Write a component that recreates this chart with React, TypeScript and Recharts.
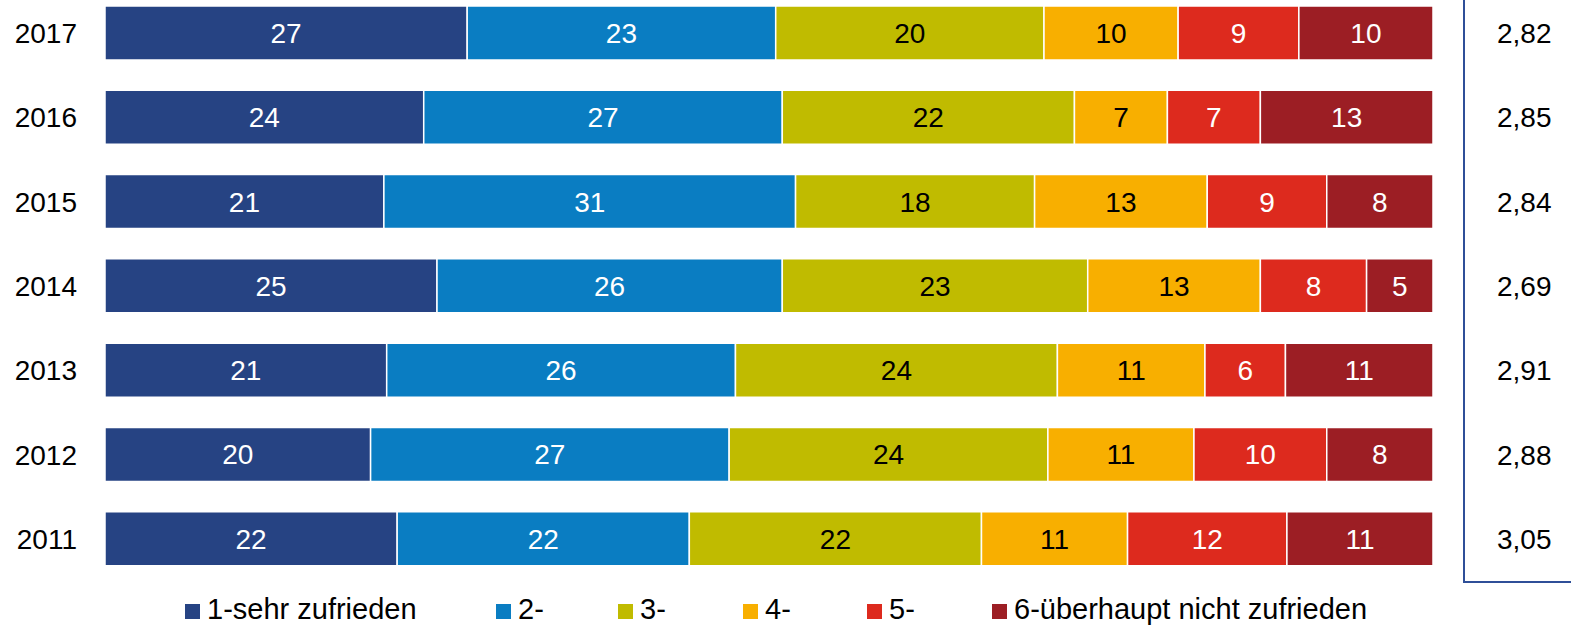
import { Bar, BarChart, LabelList, XAxis, YAxis } from "recharts";

const years = ["2017", "2016", "2015", "2014", "2013", "2012", "2011"];
const sehrZufrieden = [27, 24, 21, 25, 21, 20, 22];
const note2 = [23, 27, 31, 26, 26, 27, 22];
const note3 = [20, 22, 18, 23, 24, 24, 22];
const note4 = [10, 7, 13, 13, 11, 11, 11];
const note5 = [9, 7, 9, 8, 6, 10, 12];
const nichtZufrieden = [10, 13, 8, 5, 11, 8, 11];
const averages = ["2,82", "2,85", "2,84", "2,69", "2,91", "2,88", "3,05"];

const seriesNames = [
  "1-sehr zufrieden",
  "2-",
  "3-",
  "4-",
  "5-",
  "6-überhaupt nicht zufrieden",
];
const seriesValues = [sehrZufrieden, note2, note3, note4, note5, nichtZufrieden];

const colors = ["#264383", "#0A7DC2", "#C0BB00", "#F8AF00", "#DD2A1E", "#9C1E24"];
const labelColors = ["#fff", "#fff", "#000", "#000", "#fff", "#fff"];
const legendLeft = [185, 496, 618, 743, 867, 992];

const keys = seriesNames.map((_, i) => `s${i}`);

const data = years.map((year, r) => {
  const row: Record<string, string | number> = { year, avg: averages[r] };
  seriesValues.forEach((vals, i) => {
    row[keys[i]] = vals[r];
  });
  return row;
});

const FONT = '"Liberation Sans", Arial, sans-serif';
const FS = 28;

export default function App() {
  return (
    <div
      style={{
        position: "absolute",
        left: 0,
        top: 0,
        width: 1571,
        height: 625,
        background: "#fff",
        fontFamily: FONT,
        overflow: "hidden",
      }}
    >
      <BarChart
        width={1571}
        height={625}
        data={data}
        layout="vertical"
        stackOffset="expand"
        barSize={54}
        margin={{ top: -9, right: 0, bottom: 44, left: 0 }}
      >
        <XAxis type="number" hide domain={[0, 1]} />
        <YAxis
          type="category"
          dataKey="year"
          width={105}
          axisLine={false}
          tickLine={false}
          tickSize={0}
          tickMargin={28}
          tick={{ fill: "#000", fontSize: FS, fontFamily: FONT }}
        />
        <YAxis
          yAxisId="avg"
          type="category"
          dataKey="year"
          orientation="right"
          width={138}
          axisLine={false}
          tickLine={false}
          tickSize={0}
          tickMargin={64}
          tickFormatter={(_v, i) => averages[i]}
          tick={{ fill: "#000", fontSize: FS, fontFamily: FONT }}
        />
        {keys.map((k, i) => (
          <Bar
            key={k}
            dataKey={k}
            stackId="a"
            fill={colors[i]}
            stroke="#fff"
            strokeWidth={1.5}
            isAnimationActive={false}
          >
            <LabelList
              dataKey={k}
              position="center"
              fill={labelColors[i]}
              fontSize={FS}
              fontFamily={FONT}
            />
          </Bar>
        ))}
      </BarChart>
      <div
        style={{
          position: "absolute",
          left: 1463,
          top: -4,
          width: 120,
          height: 587,
          borderLeft: "2px solid #2F4F98",
          borderBottom: "2px solid #2F4F98",
          boxSizing: "border-box",
        }}
      />
      {seriesNames.map((name, i) => (
        <div
          key={name}
          style={{
            position: "absolute",
            left: legendLeft[i],
            top: 593,
            height: 32,
            display: "flex",
            alignItems: "center",
            fontSize: 29,
            color: "#000",
            whiteSpace: "nowrap",
          }}
        >
          <span
            style={{
              display: "inline-block",
              width: 15,
              height: 15,
              background: colors[i],
              marginRight: 7,
              marginTop: 4,
            }}
          />
          {name}
        </div>
      ))}
    </div>
  );
}
